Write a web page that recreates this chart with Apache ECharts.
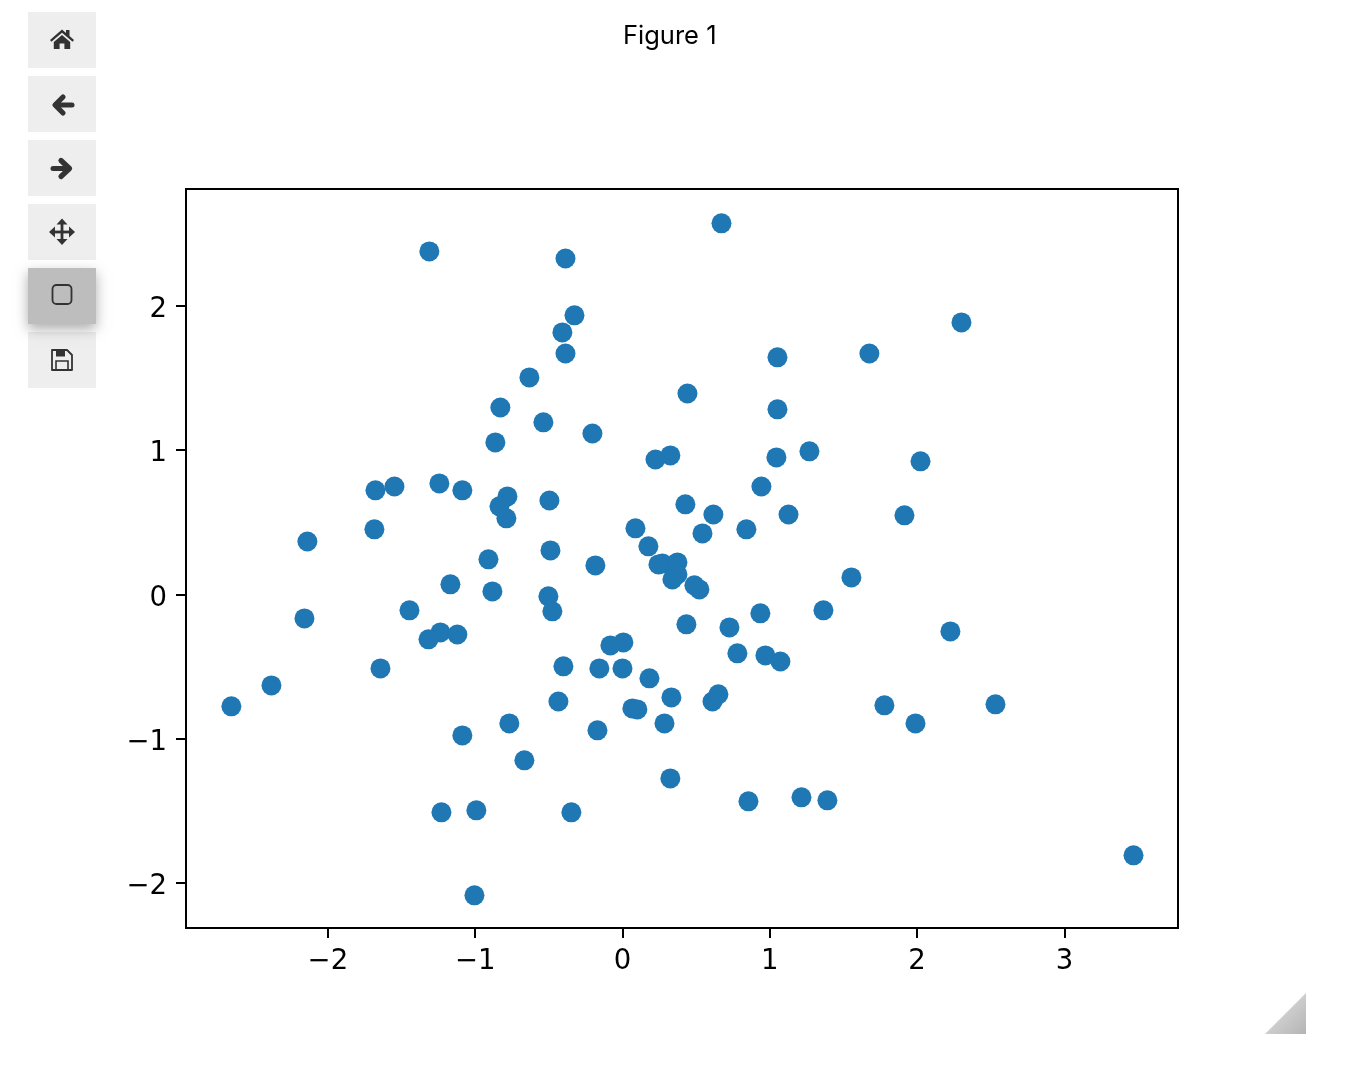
<!DOCTYPE html>
<html>
<head>
<meta charset="utf-8">
<style>html,body{margin:0;padding:0;background:#fff}#c{width:1362px;height:1076px}</style>
<script src="https://cdn.jsdelivr.net/npm/echarts@6/dist/echarts.min.js"></script>
</head>
<body>
<div id="c"></div>
<script>
const xValues = [0.672,-1.311,-0.387,-0.326,2.301,-0.408,-0.387,1.052,1.676,-0.632,0.441,-0.829,1.052,-0.537,-0.204,-0.863,1.269,0.325,0.224,1.045,2.023,0.943,-1.548,-1.677,-1.243,-1.087,-0.781,-0.496,-0.835,-0.788,0.427,0.617,1.127,1.914,-1.684,-2.139,0.088,0.543,0.841,0.176,-0.489,-0.910,-0.184,0.271,0.244,0.373,0.373,0.339,0.488,0.522,1.554,-1.168,-0.883,-0.503,-0.476,-1.446,-2.159,0.936,1.364,0.434,0.726,2.226,-1.236,-1.121,-1.317,-0.082,0.006,0.780,0.970,1.072,-1.643,-0.401,-0.157,0.000,0.183,-2.383,-2.655,-0.435,0.332,0.611,0.651,0.067,0.101,1.778,2.532,-0.768,0.285,1.989,-0.170,-1.087,-0.666,0.325,-1.229,-0.992,-0.347,0.855,1.215,1.391,3.469,-1.005];
const yValues = [2.570,2.376,2.327,1.933,1.884,1.815,1.669,1.642,1.669,1.503,1.392,1.295,1.282,1.192,1.115,1.053,0.991,0.963,0.935,0.949,0.922,0.748,0.748,0.721,0.769,0.721,0.679,0.651,0.610,0.527,0.624,0.554,0.554,0.548,0.451,0.367,0.458,0.423,0.451,0.333,0.305,0.243,0.201,0.215,0.208,0.222,0.139,0.104,0.063,0.035,0.118,0.070,0.021,-0.013,-0.117,-0.110,-0.166,-0.131,-0.110,-0.207,-0.228,-0.256,-0.263,-0.277,-0.311,-0.353,-0.332,-0.408,-0.422,-0.464,-0.512,-0.498,-0.512,-0.512,-0.581,-0.630,-0.775,-0.741,-0.713,-0.741,-0.692,-0.789,-0.796,-0.768,-0.761,-0.893,-0.893,-0.893,-0.941,-0.976,-1.149,-1.274,-1.509,-1.495,-1.509,-1.433,-1.405,-1.426,-1.807,-2.084];
const xTicks = [-2,-1,0,1,2,3];
const yTicks = [-2,-1,0,1,2];
const xRange = [-2.963,3.771];
const yRange = [-2.310,2.808];
const figureTitle = 'Figure 1';

const fmt = v => String(v).replace('-', '\u2212');
const yFmt = v => '{n|' + fmt(v) + '}';
const ink = '#333';
const btn = (y, active) => ({
  type:'rect', z:active?5:1,
  shape:{x:28,y:y,width:68,height:56},
  style: active
    ? {fill:'#bdbdbd',shadowBlur:12,shadowColor:'rgba(0,0,0,0.32)',shadowOffsetY:5}
    : {fill:'#eeeeee'}
});
const poly = (points, fill) => ({type:'polygon',z:10,shape:{points},style:{fill:fill||ink}});
const pline = (points, lw) => ({type:'polyline',z:10,shape:{points},
  style:{fill:'none',stroke:ink,lineWidth:lw,lineCap:'round',lineJoin:'round'}});

const graphics = [
  btn(12),btn(76),btn(140),btn(204),btn(332),btn(268,true),
  poly([[50,40],[62,29.5],[66,33],[66,30],[69.5,30],[69.5,36],[74,40],[72.6,41.7],[62,32.7],[51.4,41.7]]),
  poly([[53.8,42],[62,35],[70.2,42],[70.2,49],[64.4,49],[64.4,43.5],[59.6,43.5],[59.6,49],[53.8,49]]),
  pline([[72,105],[56,105]],5),
  pline([[63,97],[55,105],[63,113]],5.2),
  pline([[53,168.5],[69,168.5]],5),
  pline([[61,160.5],[69.5,168.5],[61,176.5]],5.2),
  {type:'line',z:10,shape:{x1:53,y1:232,x2:71,y2:232},style:{stroke:ink,lineWidth:2.8}},
  {type:'line',z:10,shape:{x1:62,y1:223,x2:62,y2:241},style:{stroke:ink,lineWidth:2.8}},
  poly([[49,232],[55,226.5],[55,237.5]]),
  poly([[75,232],[69,226.5],[69,237.5]]),
  poly([[62,218.5],[56.5,224.5],[67.5,224.5]]),
  poly([[62,245],[56.5,239],[67.5,239]]),
  {type:'rect',z:10,shape:{x:52.5,y:285,width:19,height:19,r:4},style:{fill:'none',stroke:ink,lineWidth:1.8}},
  {type:'polygon',z:10,shape:{points:[[52,350],[67,350],[72,355],[72,370],[52,370]]},style:{fill:'none',stroke:ink,lineWidth:1.8,lineJoin:'round'}},
  {type:'rect',z:10,shape:{x:56,y:350,width:9,height:6.5},style:{fill:ink}},
  {type:'rect',z:10,shape:{x:56,y:361,width:12,height:9},style:{fill:'none',stroke:ink,lineWidth:1.6}},
  {type:'polygon',z:2,shape:{points:[[1306,993],[1306,1034],[1265,1034]]},
    style:{fill:new echarts.graphic.LinearGradient(0,0,1,1,[{offset:0,color:'#e6e6e6'},{offset:1,color:'#b4b4b4'}])}}
];

const chart = echarts.init(document.getElementById('c'), null, {renderer:'canvas'});
chart.setOption({
  animation:false,
  backgroundColor:'#ffffff',
  title:{text:figureTitle,left:618,top:18,
    textStyle:{fontFamily:'Inter',fontWeight:'normal',fontSize:25.5,color:'#000'}},
  grid:{left:186,top:189,width:992,height:739,show:true,borderColor:'#000',borderWidth:2,backgroundColor:'#fff'},
  xAxis:{type:'value',min:xRange[0],max:xRange[1],splitLine:{show:false},
    axisLine:{show:true,onZero:false,lineStyle:{color:'#000',width:2}},
    axisTick:{show:true,length:10,lineStyle:{color:'#000',width:2},customValues:xTicks},
    axisLabel:{show:true,customValues:xTicks,formatter:fmt,margin:20,color:'#000',
      fontFamily:'DejaVu Sans',fontSize:27.5,showMinLabel:true,showMaxLabel:true}},
  yAxis:{type:'value',min:yRange[0],max:yRange[1],splitLine:{show:false},
    axisLine:{show:true,onZero:false,lineStyle:{color:'#000',width:2}},
    axisTick:{show:true,length:10,lineStyle:{color:'#000',width:2},customValues:yTicks},
    axisLabel:{show:true,customValues:yTicks,formatter:yFmt,margin:19,color:'#000',
      fontFamily:'DejaVu Sans',fontSize:27.5,
      rich:{n:{fontFamily:'DejaVu Sans',fontSize:27.5,color:'#000',padding:[8,0,0,0]}}}},
  series:[{type:'scatter',data:xValues.map((x,i)=>[x,yValues[i]]),symbol:'circle',symbolSize:20,
    itemStyle:{color:'#1f77b4',opacity:1},clip:false}],
  graphic:{elements:graphics}
});
</script>
</body>
</html>
